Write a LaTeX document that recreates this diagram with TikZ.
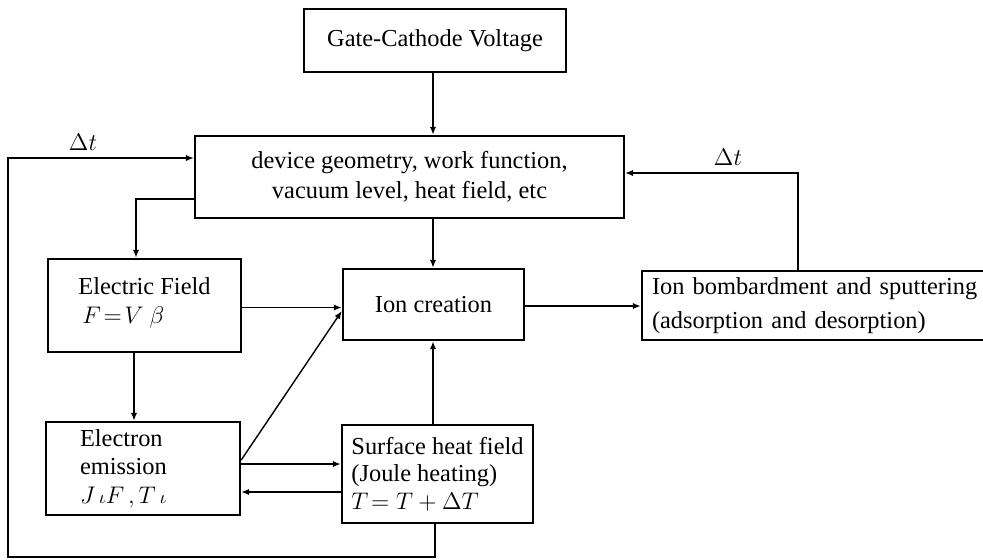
\documentclass[tikz,border=0pt]{standalone}
\usepackage{fontspec}
\setmainfont{Liberation Serif}
\usetikzlibrary{arrows.meta}
\begin{document}
\begin{tikzpicture}[x=0.5pt,y=-0.5pt,
  box/.style={draw, line width=1.2pt, inner sep=0pt, rectangle},
  arr/.style={-{Latex[length=4pt,width=3.2pt]}, line width=0.9pt},
  fb/.style={-{Latex[length=4pt,width=3.2pt]}, line width=0.6pt},
  lbl/.style={inner sep=0pt, font=\fontsize{12.2}{14}\selectfont}
]
\useasboundingbox (0,0) rectangle (983,559);

% boxes
\node[box, minimum width=131pt, minimum height=31.5pt,
      font=\fontsize{12.2}{14}\selectfont] (gate) at (435,40.5) {Gate-Cathode Voltage};
\node[box, minimum width=214.5pt, minimum height=41pt, align=center,
      font=\fontsize{12.2}{15}\selectfont] (main) at (409.5,177)
      {device geometry, work function,\\vacuum level, heat field, etc};
\node[box, minimum width=96.5pt, minimum height=46.5pt, align=left,
      font=\fontsize{12.2}{14.5}\selectfont] (ef) at (144.5,305.5)
      {Electric Field\\ \hspace*{2pt}$F\!=\!V\ \beta$\vspace*{3pt}};
\node[box, minimum width=90.5pt, minimum height=35.5pt,
      font=\fontsize{12.2}{14}\selectfont] (ic) at (433.5,304.5) {Ion creation};
\node[box, minimum width=174pt, minimum height=34.5pt, text width=164pt, align=left,
      font=\fontsize{12.2}{17}\selectfont] (ib) at (816,305.5)
      {Ion bombardment and sputtering\\(adsorption and desorption)};
\node[box, minimum width=97pt, minimum height=46.5pt, text width=63pt, align=left,
      font=\fontsize{12.2}{14.25}\selectfont] (ee) at (143,468.5)
      {Electron\\emission\\$J\,{\scriptstyle\iota}F\,,T\,{\scriptstyle\iota}$};
\node[box, minimum width=95.5pt, minimum height=49pt, align=left,
      font=\fontsize{12.2}{13.75}\selectfont] (sh) at (437.5,474)
      {Surface heat field\\(Joule heating)\\$T\!=T+\Delta T$};

% labels
\node[lbl] (dtl) at (83,142) {$\Delta t$};
\node[lbl] (dtr) at (728,157) {$\Delta t$};

% helper coordinates
\coordinate (cx) at (433,0);
\coordinate (b1) at (136,199);
\coordinate (c134) at (134,0);
\coordinate (y307) at (0,307.5);
\coordinate (y460) at (0,460);
\coordinate (y311) at (0,311);
\coordinate (y464) at (0,464);
\coordinate (y492) at (0,492);
\coordinate (y306) at (0,306);
\coordinate (r1) at (798,173);
\coordinate (fb1) at (435,557);
\coordinate (fb2) at (8,557);
\coordinate (y158) at (0,158);

% connectors
\draw[arr] (gate.south -| cx) -- (main.north -| cx);
\draw[arr] (main.south -| cx) -- (ic.north -| cx);
\draw[arr] (main.west |- b1) -| (ef.north -| b1);
\draw[arr] (ef.east |- y307) -- (ic.west |- y307);
\draw[arr] (ef.south -| c134) -- (ee.north -| c134);
\draw[fb, line width=0.7pt] (ee.east |- y460) -- (ic.west |- y311);
\draw[arr] (ee.east |- y464) -- (sh.west |- y464);
\draw[fb, line width=0.7pt] (sh.west |- y492) -- (ee.east |- y492);
\draw[arr] (sh.north -| cx) -- (ic.south -| cx);
\draw[arr] (ic.east |- y306) -- (ib.west |- y306);
\draw[fb] (ib.north -| r1) -- (r1) -- (main.east |- r1);
\draw[fb] (sh.south -| fb1) -- (fb1) -- (fb2) -- (fb2 |- y158) -- (main.west |- y158);
\end{tikzpicture}
\end{document}
